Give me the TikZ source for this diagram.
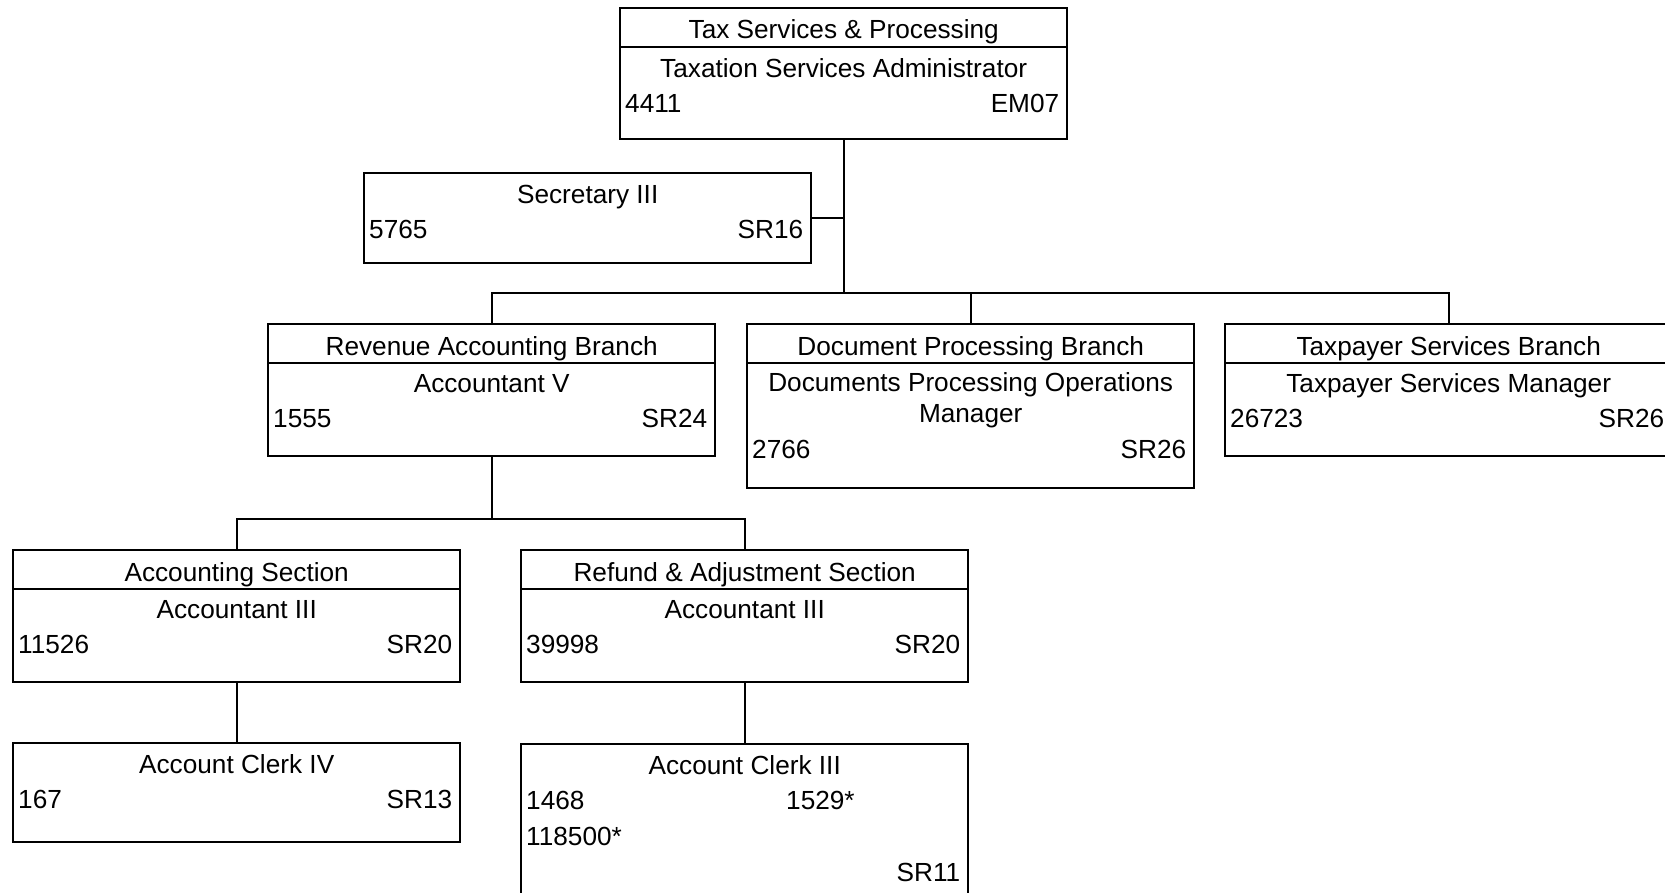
\documentclass[tikz,border=0pt]{standalone}
\usepackage{fontspec}
\setmainfont{Liberation Sans}
\usetikzlibrary{calc}
\newcommand\lbfont{\fontsize{26.2}{30}\selectfont}
\tikzset{
  orgbox/.style={draw, line width=2.4pt, minimum width=447pt, inner sep=0pt, anchor=north west},
  rule/.style={line width=2.1pt},
  wire/.style={line width=2.3pt},
  lbl/.style={anchor=base, inner sep=0pt, font=\lbfont},
  lnum/.style={lbl, anchor=base west},
  rnum/.style={lbl, anchor=base east},
}
\begin{document}
\begin{tikzpicture}[x=1pt, y=-1pt]
  \fill[white] (0,0) rectangle (1665,892);
  \clip (0,0) rectangle (1665,892);

  % --- boxes ---
  \node[orgbox, minimum height=131pt] (top)  at (619,7)   {};
  \node[orgbox, minimum height=90pt]  (sec)  at (363,172) {};
  \node[orgbox, minimum height=132pt] (rev)  at (267,323) {};
  \node[orgbox, minimum height=164pt] (doc)  at (746,323) {};
  \node[orgbox, minimum height=132pt] (tax)  at (1224,323) {};
  \node[orgbox, minimum height=132pt] (acc)  at (12,549)  {};
  \node[orgbox, minimum height=132pt] (ref)  at (520,549) {};
  \node[orgbox, minimum height=99pt]  (clkA) at (12,742)  {};
  \node[orgbox, minimum height=165pt] (clkB) at (520,743) {};

  % --- header dividers ---
  \foreach \b in {top,rev,doc,tax,acc,ref}
    \draw[rule] ($(\b.north west)+(0,40)$) -- ($(\b.north east)+(0,40)$);

  % --- texts ---
  \node[lbl]  (top-h) at ($(top.north)+(0,31)$) {Tax Services \& Processing};
  \node[lbl]  (top-t) at ($(top.north)+(0,70)$) {Taxation Services Administrator};
  \node[lnum] (top-n) at ($(top.north west)+(6,105)$) {4411};
  \node[rnum] (top-g) at ($(top.north east)+(-9,105)$) {EM07};

  \node[lbl]  (sec-t) at ($(sec.north)+(0,31)$) {Secretary III};
  \node[lnum] (sec-n) at ($(sec.north west)+(6,66)$) {5765};
  \node[rnum] (sec-g) at ($(sec.north east)+(-9,66)$) {SR16};

  \node[lbl]  (rev-h) at ($(rev.north)+(0,32)$) {Revenue Accounting Branch};
  \node[lbl]  (rev-t) at ($(rev.north)+(0,69)$) {Accountant V};
  \node[lnum] (rev-n) at ($(rev.north west)+(6,104)$) {1555};
  \node[rnum] (rev-g) at ($(rev.north east)+(-9,104)$) {SR24};

  \node[lbl]  (doc-h) at ($(doc.north)+(0,32)$) {Document Processing Branch};
  \node[lbl]  (doc-t) at ($(doc.north)+(0,68)$) {Documents Processing Operations};
  \node[lbl]  (doc-u) at ($(doc.north)+(0,99)$) {Manager};
  \node[lnum] (doc-n) at ($(doc.north west)+(6,135)$) {2766};
  \node[rnum] (doc-g) at ($(doc.north east)+(-9,135)$) {SR26};

  \node[lbl]  (tax-h) at ($(tax.north)+(0,32)$) {Taxpayer Services Branch};
  \node[lbl]  (tax-t) at ($(tax.north)+(0,69)$) {Taxpayer Services Manager};
  \node[lnum] (tax-n) at ($(tax.north west)+(6,104)$) {26723};
  \node[rnum] (tax-g) at ($(tax.north east)+(-9,104)$) {SR26};

  \node[lbl]  (acc-h) at ($(acc.north)+(0,32)$) {Accounting Section};
  \node[lbl]  (acc-t) at ($(acc.north)+(0,69)$) {Accountant III};
  \node[lnum] (acc-n) at ($(acc.north west)+(6,104)$) {11526};
  \node[rnum] (acc-g) at ($(acc.north east)+(-9,104)$) {SR20};

  \node[lbl]  (ref-h) at ($(ref.north)+(0,32)$) {Refund \& Adjustment Section};
  \node[lbl]  (ref-t) at ($(ref.north)+(0,69)$) {Accountant III};
  \node[lnum] (ref-n) at ($(ref.north west)+(6,104)$) {39998};
  \node[rnum] (ref-g) at ($(ref.north east)+(-9,104)$) {SR20};

  \node[lbl]  (clkA-t) at ($(clkA.north)+(0,31)$) {Account Clerk IV};
  \node[lnum] (clkA-n) at ($(clkA.north west)+(6,66)$) {167};
  \node[rnum] (clkA-g) at ($(clkA.north east)+(-9,66)$) {SR13};

  \node[lbl]  (clkB-t) at ($(clkB.north)+(0,31)$) {Account Clerk III};
  \node[lnum] (clkB-n) at ($(clkB.north west)+(6,66)$) {1468};
  \node[lnum] (clkB-m) at ($(clkB.north west)+(266,66)$) {1529*};
  \node[lnum] (clkB-p) at ($(clkB.north west)+(6,102)$) {118500*};
  \node[rnum] (clkB-g) at ($(clkB.north east)+(-9,138)$) {SR11};

  % --- connectors ---
  \coordinate (bus) at (0,293);
  \coordinate (sub) at (0,519);
  \draw[wire] (top.south) -- (top.south |- bus);
  \draw[wire] (sec.east) -- (sec.east -| top.south);
  \draw[wire] (rev.north) |- (bus -| tax.north) -- (tax.north);
  \draw[wire] (doc.north) -- (doc.north |- bus);
  \draw[wire] (rev.south) -- (rev.south |- sub);
  \draw[wire] (acc.north) |- (sub -| ref.north) -- (ref.north);
  \draw[wire] (acc.south) -- (clkA.north);
  \draw[wire] (ref.south) -- (clkB.north);
\end{tikzpicture}
\end{document}
